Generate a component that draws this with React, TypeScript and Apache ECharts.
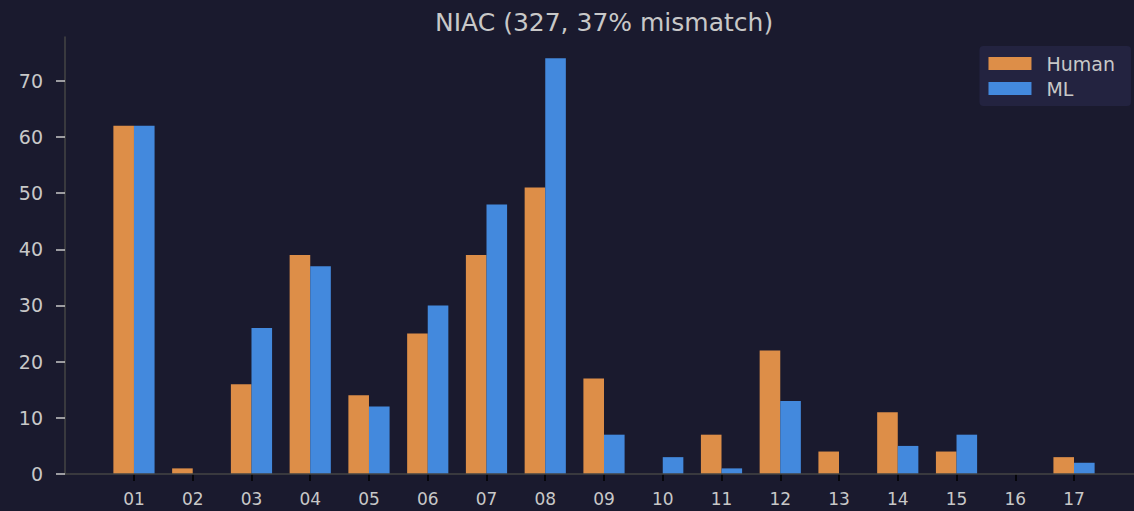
import React, { useEffect, useRef } from "react";
import * as echarts from "echarts";

const categories = ["01","02","03","04","05","06","07","08","09","10","11","12","13","14","15","16","17"];
const humanValues = [62, 1, 16, 39, 14, 25, 39, 51, 17, 0, 7, 22, 4, 11, 4, 0, 3];
const mlValues = [62, 0, 26, 37, 12, 30, 48, 74, 7, 3, 1, 13, 0, 5, 7, 0, 2];
const yTicks = [0, 10, 20, 30, 40, 50, 60, 70];
const titleText = "NIAC (327, 37% mismatch)";

export default function App() {
  const ref = useRef<HTMLDivElement>(null);
  useEffect(() => {
    if (!ref.current) return;
    const chart = echarts.init(ref.current, null, { renderer: "svg" });
    const font = "DejaVu Sans";
    chart.setOption({
      animation: false,
      backgroundColor: "#1a1a2e",
      textStyle: { fontFamily: font },
      title: {
        text: titleText,
        left: 430,
        top: 5,
        textStyle: { color: "#c8c8c8", fontSize: 25, fontWeight: "normal", fontFamily: font },
      },
      legend: {
        data: ["Human", "ML"],
        right: 3,
        top: 46,
        orient: "vertical",
        icon: "rect",
        itemWidth: 43,
        itemHeight: 13,
        itemGap: 6,
        padding: [8, 16, 8, 9],
        backgroundColor: "#232340",
        borderRadius: 4,
        textStyle: { color: "#c8c8c8", fontSize: 19, fontFamily: font, padding: [0, 0, 0, 10] },
      },
      grid: { left: 104.6, right: 30.6, top: 37, bottom: 37, containLabel: false },
      xAxis: {
        type: "category",
        data: categories,
        axisLine: { show: false },
        axisTick: { show: true, alignWithLabel: true, length: 7, lineStyle: { color: "#000000", width: 1.5 } },
        axisLabel: { color: "#c8c8c8", fontSize: 17, margin: 16, fontFamily: font },
        splitLine: { show: false },
      },
      yAxis: {
        type: "value",
        min: 0,
        max: 77.8,
        interval: 10,
        offset: 39.6,
        axisLine: { show: true, lineStyle: { color: "#444444", width: 1.5 } },
        axisTick: { show: true, length: 9, customValues: yTicks, lineStyle: { color: "#c8c8c8", width: 1.5 } },
        axisLabel: {
          color: "#c8c8c8",
          fontSize: 19,
          margin: 22,
          fontFamily: font,
          customValues: yTicks,
        },
        splitLine: { show: false },
      },
      graphic: [
        {
          type: "line",
          shape: { x1: 65, y1: 474, x2: 1134, y2: 474 },
          style: { stroke: "#444444", lineWidth: 1.5 },
          z: 10,
        },
      ],
      series: [
        {
          name: "Human",
          type: "bar",
          data: humanValues,
          barWidth: 20.6,
          barGap: "0%",
          itemStyle: { color: "#dd8e48" },
        },
        {
          name: "ML",
          type: "bar",
          data: mlValues,
          barWidth: 20.6,
          barGap: "0%",
          itemStyle: { color: "#4389dd" },
        },
      ],
    });
    return () => chart.dispose();
  }, []);
  return <div ref={ref} style={{ width: 1134, height: 511, position: "absolute", left: 0, top: 0 }} />;
}
